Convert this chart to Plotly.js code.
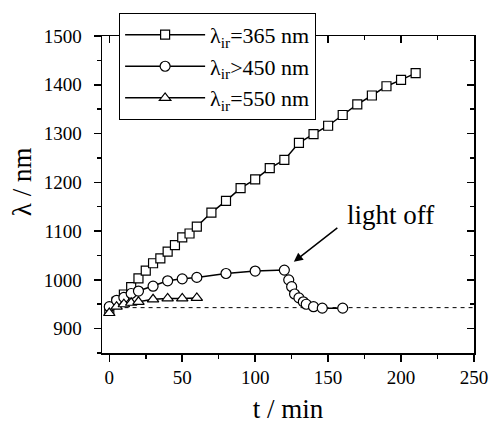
<!DOCTYPE html>
<html>
<head>
<meta charset="utf-8">
<script src="https://cdn.plot.ly/plotly-3.0.1.min.js"></script>
<style>html,body{margin:0;padding:0;background:#fff;}#chart{width:492px;height:424px;}</style>
</head>
<body>
<div id="chart"></div>
<script>
// λ_ir = 365 nm
var t365 = [0, 5, 10, 15, 20, 25, 30, 35, 40, 45, 50, 55, 60, 70, 80, 90, 100, 110, 120, 130, 140, 150, 160, 170, 180, 190, 200, 210];
var l365 = [940, 955, 970, 985, 1003, 1019, 1034, 1044, 1058, 1071, 1087, 1095, 1109, 1138, 1162, 1188, 1206, 1229, 1246, 1281, 1299, 1316, 1338, 1360, 1378, 1397, 1410, 1424];
// λ_ir > 450 nm
var t450 = [0, 5, 10, 15, 20, 30, 40, 50, 60, 80, 100, 120, 123, 125, 127, 130, 133, 135, 140, 146, 160];
var l450 = [945, 958, 964, 972, 977, 987, 998, 1002, 1005, 1013, 1018, 1020, 1000, 986, 971, 963, 955, 950, 945, 942, 942];
// λ_ir = 550 nm
var t550 = [0, 5, 10, 15, 20, 30, 40, 50, 60];
var l550 = [932, 945, 950, 953, 955, 960, 962, 962, 963];
// baseline (dashed)
var tBase = [5, 250];
var lBase = [943, 943];

var xTicks = [0, 50, 100, 150, 200, 250];
var yTicks = [900, 1000, 1100, 1200, 1300, 1400, 1500];

var FONT = 'Liberation Serif';
var mk = function(sym, size){ return {symbol: sym, size: size, color: '#fff', line: {color: '#000', width: 1.2}}; };

var data = [
  {x: tBase, y: lBase, mode: 'lines', line: {color: '#000', width: 1, dash: '4px,4px'}, showlegend: false, hoverinfo: 'skip'},
  {x: t365, y: l365, mode: 'lines+markers', name: 'λ<sub>ir</sub>=365 nm', line: {color: '#000', width: 1.5}, marker: mk('square', 9)},
  {x: t450, y: l450, mode: 'lines+markers', name: 'λ<sub>ir</sub>>450 nm', line: {color: '#000', width: 1.5}, marker: mk('circle', 10)},
  {x: t550, y: l550, mode: 'lines+markers', name: 'λ<sub>ir</sub>=550 nm', line: {color: '#000', width: 1.5}, marker: mk('triangle-up', 10)},
  {x: [null], y: [null], xaxis: 'x2', yaxis: 'y2', showlegend: false, hoverinfo: 'skip', mode: 'markers'}
];

function axBase() {
  return {
    showgrid: false, zeroline: false, showline: true, linecolor: '#000', linewidth: 1.5,
    ticks: 'outside', ticklen: 7, tickwidth: 1.5, tickcolor: '#000',
    tickfont: {family: FONT, size: 19, color: '#000'}, mirror: true
  };
}

var layout = {
  width: 492, height: 424,
  margin: {l: 102, r: 18, t: 36, b: 71},
  paper_bgcolor: '#fff', plot_bgcolor: '#fff',
  font: {family: FONT, color: '#000', size: 20},
  showlegend: true,
  legend: {
    x: 0.046, y: 1.073, xanchor: 'left', yanchor: 'top',
    bgcolor: '#fff', bordercolor: '#000', borderwidth: 1,
    font: {family: FONT, size: 22, color: '#000'},
    itemwidth: 80
  },
  xaxis: Object.assign(axBase(), {
    range: [-5, 250], tickvals: xTicks, ticktext: xTicks.map(String),
    minor: {dtick: 25, tick0: 0, ticks: 'outside', ticklen: 4, tickwidth: 1.5, tickcolor: '#000'},
    title: {text: 't / min', font: {family: FONT, size: 27, color: '#000'}, standoff: 14}
  }),
  yaxis: Object.assign(axBase(), {
    range: [850, 1500], tickvals: yTicks, ticktext: yTicks.map(String), ticklabelstandoff: 8,
    minor: {dtick: 50, tick0: 850, ticks: 'outside', ticklen: 4, tickwidth: 1.5, tickcolor: '#000'}
  }),
  xaxis2: {overlaying: 'x', side: 'top', anchor: 'y2', range: [-5, 250], showgrid: false, zeroline: false,
    showline: false, ticks: 'inside', tickvals: xTicks, ticklen: 7, tickwidth: 1.5, tickcolor: '#000', showticklabels: false,
    minor: {dtick: 25, tick0: 0, ticks: 'inside', ticklen: 4, tickwidth: 1.5, tickcolor: '#000'}},
  yaxis2: {overlaying: 'y', side: 'right', anchor: 'x2', range: [850, 1500], showgrid: false, zeroline: false,
    showline: false, ticks: 'inside', tickvals: yTicks, ticklen: 7, tickwidth: 1.5, tickcolor: '#000', showticklabels: false,
    minor: {dtick: 50, tick0: 850, ticks: 'inside', ticklen: 4, tickwidth: 1.5, tickcolor: '#000'}},
  annotations: [
    {xref: 'paper', yref: 'paper', x: -0.215, y: 0.539, xanchor: 'center', yanchor: 'middle',
     text: 'λ / nm', textangle: -90, showarrow: false, font: {family: FONT, size: 27, color: '#000'}},
    {x: 193, y: 1133, xref: 'x', yref: 'y', text: 'light off', showarrow: false,
     font: {family: FONT, size: 27, color: '#000'}},
    {x: 126.5, y: 1037, xref: 'x', yref: 'y', text: '', showarrow: true, ax: 45, ay: -35,
     arrowhead: 2, arrowsize: 1.2, arrowwidth: 1.5, arrowcolor: '#000', standoff: 0, startstandoff: 0}
  ]
};

Plotly.newPlot('chart', data, layout, {staticPlot: true, displayModeBar: false});
</script>
</body>
</html>
